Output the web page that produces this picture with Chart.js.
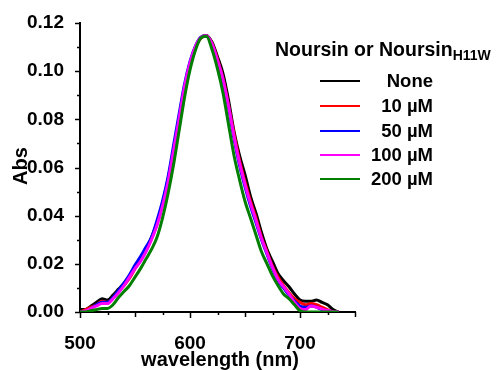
<!DOCTYPE html>
<html>
<head>
<meta charset="utf-8">
<script src="https://cdn.jsdelivr.net/npm/chart.js@4.4.1/dist/chart.umd.min.js"></script>
<style>
  body { margin: 0; background: #fff; }
  #wrap { width: 496px; height: 370px; position: relative; }
</style>
</head>
<body>
<div id="wrap"><canvas id="myChart"></canvas></div>
<script>
// Datos
const wavelengths = [500, 505, 510, 515, 520, 525, 530, 535, 540, 545, 550, 555, 560, 565, 570, 575, 580, 585, 590, 595,
  600, 605, 610, 615, 620, 625, 630, 635, 640, 645, 650, 655, 660, 665, 670, 675, 680, 685, 690, 695,
  700, 705, 710, 715, 720, 725, 730, 735];

const absNone = [0.001, 0.001, 0.0025, 0.004, 0.0055, 0.005, 0.007, 0.0095, 0.012, 0.015, 0.019, 0.022, 0.026, 0.031, 0.037, 0.045, 0.055, 0.067, 0.080, 0.093,
  0.103, 0.110, 0.114, 0.1148, 0.112, 0.106, 0.099, 0.088, 0.075, 0.065, 0.057, 0.048, 0.041, 0.033, 0.026, 0.021, 0.016, 0.013, 0.0105, 0.0075,
  0.005, 0.0045, 0.0045, 0.005, 0.004, 0.003, 0.001, 0];

const abs10 = [0, 0.001, 0.002, 0.003, 0.0045, 0.004, 0.006, 0.0085, 0.011, 0.014, 0.018, 0.0215, 0.0255, 0.0305, 0.0365, 0.0445, 0.0545, 0.0665, 0.0795, 0.0925,
  0.1025, 0.1098, 0.1138, 0.1147, 0.1115, 0.105, 0.097, 0.086, 0.074, 0.063, 0.054, 0.046, 0.039, 0.031, 0.025, 0.019, 0.0145, 0.011, 0.008, 0.0055,
  0.004, 0.003, 0.0035, 0.003, 0.002, 0.001, 0, 0];

const abs50 = [0, 0, 0.0015, 0.003, 0.004, 0.004, 0.006, 0.009, 0.012, 0.0155, 0.0195, 0.023, 0.027, 0.031, 0.038, 0.046, 0.056, 0.069, 0.082, 0.0945,
  0.104, 0.1105, 0.1142, 0.1146, 0.111, 0.104, 0.096, 0.085, 0.072, 0.061, 0.052, 0.044, 0.037, 0.030, 0.024, 0.018, 0.013, 0.010, 0.007, 0.0045,
  0.0025, 0.002, 0.0025, 0.002, 0.001, 0.0005, 0, 0];

const abs100 = [0, 0.0005, 0.0015, 0.0025, 0.0035, 0.0035, 0.0055, 0.008, 0.011, 0.0145, 0.018, 0.021, 0.025, 0.030, 0.036, 0.044, 0.054, 0.067, 0.080, 0.0935,
  0.1035, 0.1103, 0.114, 0.1147, 0.1113, 0.1045, 0.0965, 0.0855, 0.073, 0.062, 0.053, 0.045, 0.038, 0.0305, 0.0245, 0.0185, 0.0135, 0.0105, 0.0075, 0.004,
  0.0015, 0.001, 0.0025, 0.002, 0.0012, 0.0006, 0.0002, 0];

const abs200 = [0, 0, 0.0005, 0.001, 0.0015, 0.0015, 0.003, 0.006, 0.0085, 0.011, 0.0145, 0.018, 0.022, 0.026, 0.031, 0.039, 0.049, 0.061, 0.075, 0.089,
  0.1005, 0.1088, 0.1138, 0.1145, 0.109, 0.101, 0.091, 0.078, 0.065, 0.055, 0.046, 0.039, 0.032, 0.025, 0.020, 0.015, 0.011, 0.0075, 0.0055, 0.003,
  0.0005, 0, 0, 0, 0, 0, 0, 0];

const seriesLabels = ['None', '10 µM', '50 µM', '100 µM', '200 µM'];
const seriesColors = ['#000000', '#ff0000', '#0000ff', '#ff00ff', '#007f00'];
const seriesValues = [absNone, abs10, abs50, abs100, abs200];

const yTicks = [0, 0.02, 0.04, 0.06, 0.08, 0.10, 0.12];
const xTicks = [500, 600, 700];

const FONT = '"Liberation Sans", Arial, Helvetica, sans-serif';

// ticks menores / mayores dibujados a mano
const tickMarks = {
  id: 'tickMarks',
  afterDraw(chart) {
    const { ctx, scales: { x, y } } = chart;
    ctx.save();
    ctx.strokeStyle = '#000';
    ctx.lineWidth = 1.5;
    const y0 = y.getPixelForValue(0);
    for (let v = 500; v <= 750; v += 25) {
      const px = Math.round(x.getPixelForValue(v)) + 0.5;
      const len = v % 100 === 0 ? 6 : (v % 50 === 0 ? 5 : 3);
      ctx.beginPath();
      ctx.moveTo(px, y0);
      ctx.lineTo(px, y0 + len);
      ctx.stroke();
    }
    const x0 = x.getPixelForValue(500);
    for (let i = 0; i <= 12; i++) {
      const py = Math.round(y.getPixelForValue(i / 100)) + 0.5;
      const len = i % 2 === 0 ? 5 : 3;
      ctx.beginPath();
      ctx.moveTo(x0, py);
      ctx.lineTo(x0 - len, py);
      ctx.stroke();
    }
    ctx.restore();
  }
};

// títulos de ejes y leyenda
const textos = {
  id: 'textos',
  afterDraw(chart) {
    const { ctx } = chart;
    ctx.save();
    ctx.fillStyle = '#000';

    ctx.font = 'bold 20px ' + FONT;
    ctx.textAlign = 'center';
    ctx.textBaseline = 'alphabetic';
    ctx.fillText('wavelength (nm)', 220, 366);

    ctx.save();
    ctx.translate(27, 166);
    ctx.rotate(-Math.PI / 2);
    ctx.fillText('Abs', 0, 0);
    ctx.restore();

    // leyenda
    ctx.textAlign = 'left';
    ctx.font = 'bold 19.5px ' + FONT;
    const main = 'Noursin or Noursin';
    ctx.fillText(main, 275, 56);
    const w = ctx.measureText(main).width;
    ctx.font = 'bold 14px ' + FONT;
    ctx.fillText('H11W', 275 + w, 60);

    const rows = [81, 106, 131, 155, 179];
    chart.data.datasets.forEach((ds, i) => {
      const yy = rows[i];
      ctx.strokeStyle = ds.borderColor;
      ctx.lineWidth = 2;
      ctx.beginPath();
      ctx.moveTo(320, yy);
      ctx.lineTo(360, yy);
      ctx.stroke();
      ctx.font = 'bold 18.5px ' + FONT;
      ctx.textAlign = 'right';
      ctx.fillText(ds.label, 433, yy + 6);
    });
    ctx.restore();
  }
};

const datasets = seriesValues.map((vals, i) => ({
  label: seriesLabels[i],
  data: wavelengths.map((w, j) => ({ x: w, y: vals[j] })),
  borderColor: seriesColors[i],
  backgroundColor: seriesColors[i],
  borderWidth: 3,
  pointRadius: 0,
  cubicInterpolationMode: 'monotone',
  fill: false,
  order: seriesValues.length - i
}));

const ctx = document.getElementById('myChart').getContext('2d');
new Chart(ctx, {
  type: 'line',
  data: { datasets },
  options: {
    responsive: true,
    maintainAspectRatio: false,
    animation: false,
    layout: { padding: { top: 23, right: 141, left: 0, bottom: 0 } },
    plugins: {
      legend: { display: false },
      tooltip: { enabled: false }
    },
    scales: {
      x: {
        type: 'linear',
        min: 500,
        max: 750,
        afterFit: (s) => { s.height = 58; },
        afterBuildTicks: (s) => { s.ticks = xTicks.map(v => ({ value: v })); },
        grid: { display: false },
        border: { display: true, color: '#000', width: 2 },
        ticks: {
          color: '#000',
          padding: 12,
          maxRotation: 0,
          autoSkip: false,
          font: { family: FONT, size: 19, weight: 'bold' },
          callback: (v) => String(v)
        }
      },
      y: {
        min: 0,
        max: 0.12,
        afterFit: (s) => { s.width = 80; },
        afterBuildTicks: (s) => { s.ticks = yTicks.map(v => ({ value: v })); },
        grid: { display: false },
        border: { display: true, color: '#000', width: 2 },
        ticks: {
          color: '#000',
          padding: 8,
          autoSkip: false,
          font: { family: FONT, size: 19, weight: 'bold' },
          callback: (v) => v.toFixed(2)
        }
      }
    }
  },
  plugins: [tickMarks, textos]
});
</script>
</body>
</html>
